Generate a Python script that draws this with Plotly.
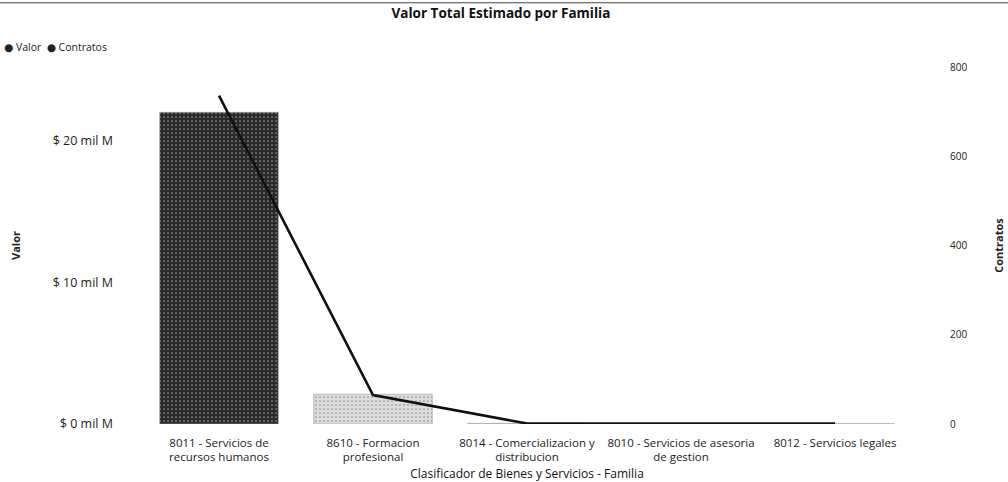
import plotly.graph_objects as go

# Familias del clasificador (UNSPSC) y sus totales
familias = [
    "8011 - Servicios de<br>recursos humanos",
    "8610 - Formacion<br>profesional",
    "8014 - Comercializacion y<br>distribucion",
    "8010 - Servicios de asesoria<br>de gestion",
    "8012 - Servicios legales",
]
valor_mil_millones = [22.0, 2.1, 0.05, 0.03, 0.02]
contratos = [736, 65, 1, 1, 1]
colores_barra = ["#2a2a2a", "#dcdcdc", "#dcdcdc", "#dcdcdc", "#dcdcdc"]

valor_ticks = [0, 10, 20]
valor_ticktext = ["$ 0 mil M", "$ 10 mil M", "$ 20 mil M"]
contratos_ticks = [0, 200, 400, 600, 800]

font_family = "Open Sans, DejaVu Sans, sans-serif"

fig = go.Figure()
fig.add_trace(go.Bar(
    x=familias, y=valor_mil_millones, name="Valor",
    marker=dict(color=colores_barra, line=dict(color="#9a9a9a", width=0.6),
                pattern=dict(shape=".", size=4, solidity=0.15,
                             fgcolor="#8c8c8c")),
    yaxis="y", showlegend=False,
))
fig.add_trace(go.Scatter(
    x=familias, y=contratos, name="Contratos", mode="lines",
    line=dict(color="#111111", width=2.6),
    yaxis="y2", showlegend=False,
))

fig.update_layout(
    width=1008, height=482,
    margin=dict(l=142, r=96, t=67, b=58),
    paper_bgcolor="white", plot_bgcolor="white",
    font=dict(family=font_family, size=10, color="#222222"),
    title=dict(text="<b>Valor Total Estimado por Familia</b>",
               x=0.497, xanchor="center", y=0.982, yanchor="top",
               font=dict(size=13.5, color="#111111")),
    bargap=0.23,
    showlegend=False,
    xaxis=dict(
        title=dict(text="Clasificador de Bienes y Servicios - Familia",
                   font=dict(size=12, color="#111111"), standoff=6),
        showgrid=False, showline=False, ticks="", tickfont=dict(size=11.5),
        ticklabelstandoff=10, automargin=False,
    ),
    yaxis=dict(
        title=dict(text="<b>Valor</b>", font=dict(size=11), standoff=29),
        range=[0, 25.2], tickvals=valor_ticks, ticktext=valor_ticktext,
        showgrid=False, zeroline=False, showline=False, ticks="",
        ticklabelstandoff=28, tickfont=dict(size=12.5), automargin=False,
    ),
    yaxis2=dict(
        title=dict(text="<b>Contratos</b>", font=dict(size=11), standoff=28),
        range=[0, 800], tickvals=contratos_ticks, overlaying="y",
        side="right", showgrid=False, zeroline=False, showline=False,
        ticks="", ticklabelstandoff=37, automargin=False,
    ),
)

# Compact legend line: bullet + series name
fig.add_annotation(
    text="● Valor  ● Contratos", xref="paper", yref="paper",
    x=-0.182, xanchor="left", y=1.056, yanchor="middle",
    showarrow=False, font=dict(size=10.5, color="#222222"),
)

# Thin rule along the top edge of the page
fig.add_shape(type="line", xref="paper", yref="paper",
              x0=-0.185, x1=1.125, y0=1.18, y1=1.18,
              line=dict(color="#444444", width=1.2))

fig.write_html("out.html")
